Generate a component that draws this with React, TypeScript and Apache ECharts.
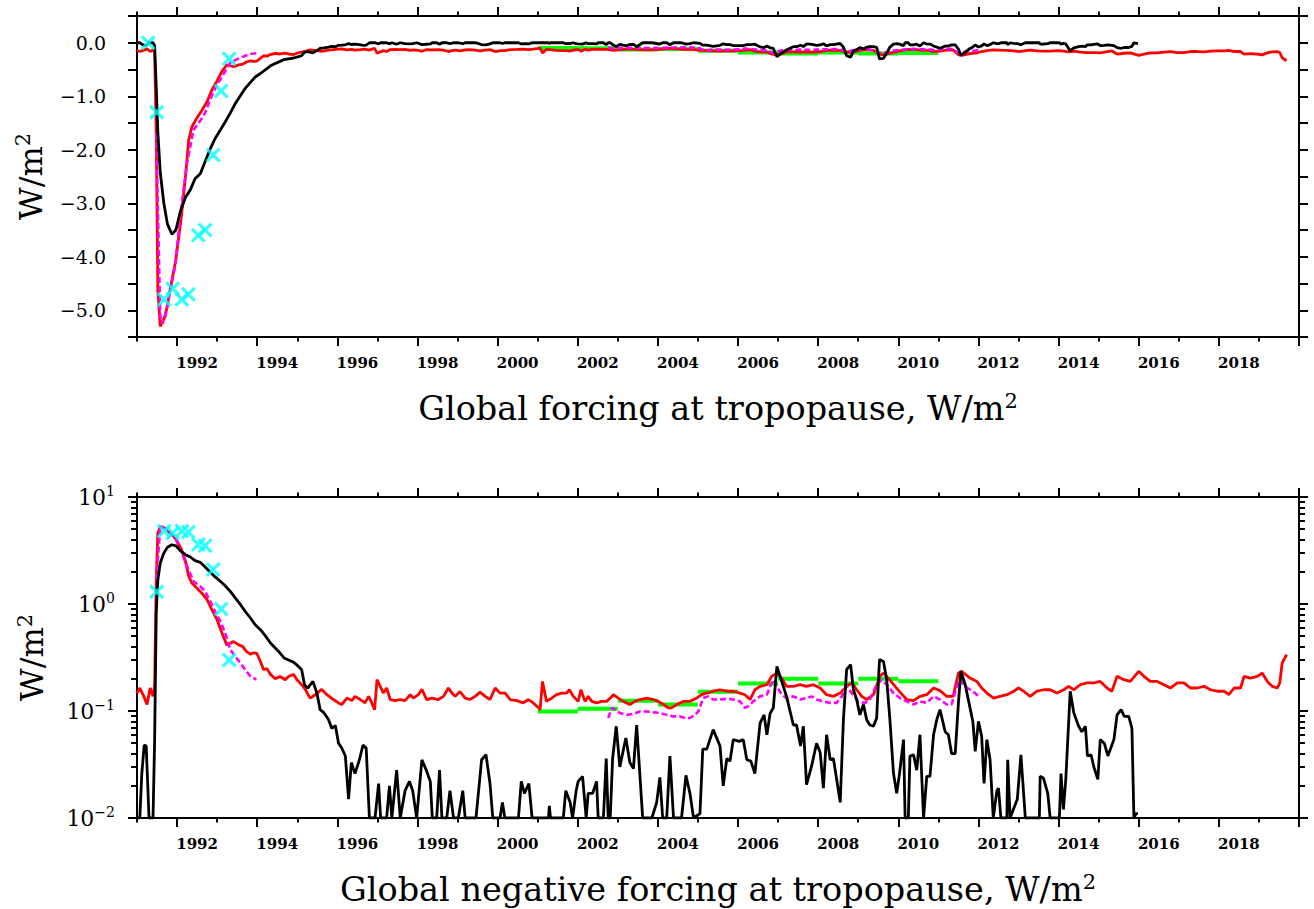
import { useEffect, useRef } from 'react';
import * as echarts from 'echarts';

// ---------- tick / label values ----------
const evenYears = [1992, 1994, 1996, 1998, 2000, 2002, 2004, 2006, 2008, 2010, 2012, 2014, 2016, 2018, 2020];
const oddYears = [1991, 1993, 1995, 1997, 1999, 2001, 2003, 2005, 2007, 2009, 2011, 2013, 2015, 2017, 2019];
const labelYears = [1992, 1994, 1996, 1998, 2000, 2002, 2004, 2006, 2008, 2010, 2012, 2014, 2016, 2018];
const logMajorTicks = [0.01, 0.1, 1, 10];
const logMinorTicks = [0.02, 0.03, 0.04, 0.05, 0.06, 0.07, 0.08, 0.09, 0.2, 0.3, 0.4, 0.5, 0.6, 0.7, 0.8, 0.9, 2, 3, 4, 5, 6, 7, 8, 9];

const topTitle = 'Global forcing at tropopause, W/m';
const bottomTitle = 'Global negative forcing at tropopause, W/m';

// ---------- data: negative forcing (W/m2), [year, value] ----------
const redData: [number, number][] = [
  [1991.00, 0.147], [1991.07, 0.164], [1991.17, 0.137], [1991.25, 0.115], [1991.33, 0.164], [1991.40, 0.137], [1991.44, 0.17],
  [1991.48, 1.67], [1991.52, 4.6], [1991.58, 5.3], [1991.71, 5.1], [1991.83, 4.6], [1991.96, 4.1], [1992.10, 3.3], [1992.21, 2.5],
  [1992.29, 1.82], [1992.37, 1.57], [1992.50, 1.40], [1992.62, 1.26], [1992.75, 1.10], [1992.87, 0.88], [1993.00, 0.71],
  [1993.12, 0.535], [1993.24, 0.415], [1993.33, 0.43], [1993.41, 0.445], [1993.54, 0.415], [1993.64, 0.40], [1993.73, 0.36],
  [1993.83, 0.34], [1993.91, 0.35], [1993.99, 0.345], [1994.08, 0.29], [1994.16, 0.243], [1994.24, 0.25], [1994.33, 0.22],
  [1994.45, 0.20], [1994.57, 0.21], [1994.70, 0.196], [1994.78, 0.21], [1994.91, 0.22], [1994.99, 0.196], [1995.11, 0.176],
  [1995.20, 0.159], [1995.32, 0.132], [1995.45, 0.142], [1995.61, 0.159], [1995.74, 0.142], [1995.90, 0.128], [1996.03, 0.119],
  [1996.11, 0.115], [1996.24, 0.132], [1996.36, 0.125], [1996.44, 0.137], [1996.57, 0.128], [1996.69, 0.119], [1996.78, 0.137],
  [1996.86, 0.119], [1996.93, 0.103], [1996.99, 0.196], [1997.07, 0.17], [1997.15, 0.147], [1997.23, 0.164], [1997.32, 0.128],
  [1997.44, 0.125], [1997.57, 0.128], [1997.69, 0.125], [1997.82, 0.142], [1997.90, 0.132], [1998.02, 0.142], [1998.11, 0.159],
  [1998.23, 0.128], [1998.36, 0.132], [1998.52, 0.128], [1998.65, 0.137], [1998.77, 0.164], [1998.86, 0.147], [1998.94, 0.137],
  [1999.06, 0.152], [1999.19, 0.132], [1999.31, 0.128], [1999.44, 0.137], [1999.56, 0.15], [1999.69, 0.137], [1999.81, 0.128],
  [1999.94, 0.164], [2000.06, 0.147], [2000.19, 0.147], [2000.31, 0.128], [2000.48, 0.125], [2000.64, 0.119], [2000.77, 0.128],
  [2000.89, 0.119], [2001.02, 0.107], [2001.06, 0.103], [2001.12, 0.189], [2001.22, 0.123], [2001.35, 0.132], [2001.47, 0.142],
  [2001.60, 0.147], [2001.72, 0.147], [2001.79, 0.158], [2001.89, 0.137], [2002.01, 0.123], [2002.08, 0.158], [2002.18, 0.123],
  [2002.26, 0.137], [2002.35, 0.123], [2002.47, 0.119], [2002.60, 0.123], [2002.72, 0.123], [2002.81, 0.132], [2002.89, 0.142],
  [2003.01, 0.132], [2003.14, 0.123], [2003.30, 0.115], [2003.43, 0.123], [2003.55, 0.128], [2003.72, 0.132], [2003.89, 0.128],
  [2004.01, 0.123], [2004.14, 0.115], [2004.26, 0.107], [2004.34, 0.107], [2004.47, 0.115], [2004.64, 0.123], [2004.80, 0.123],
  [2004.97, 0.132], [2005.09, 0.142], [2005.22, 0.147], [2005.38, 0.153], [2005.55, 0.158], [2005.72, 0.153], [2005.88, 0.153],
  [2006.05, 0.147], [2006.17, 0.142], [2006.30, 0.128], [2006.42, 0.158], [2006.55, 0.170], [2006.72, 0.176], [2006.84, 0.211],
  [2006.97, 0.226], [2007.09, 0.203], [2007.21, 0.170], [2007.38, 0.170], [2007.55, 0.176], [2007.71, 0.170], [2007.88, 0.176],
  [2008.05, 0.164], [2008.21, 0.142], [2008.38, 0.137], [2008.55, 0.147], [2008.71, 0.170], [2008.84, 0.183], [2008.96, 0.158],
  [2009.09, 0.137], [2009.21, 0.128], [2009.38, 0.142], [2009.54, 0.211], [2009.63, 0.226], [2009.75, 0.203], [2009.92, 0.170],
  [2010.04, 0.15], [2010.21, 0.128], [2010.38, 0.125], [2010.54, 0.137], [2010.71, 0.142], [2010.88, 0.164], [2011.04, 0.155],
  [2011.21, 0.137], [2011.37, 0.137], [2011.50, 0.226], [2011.58, 0.235], [2011.79, 0.203], [2011.96, 0.189], [2012.08, 0.164],
  [2012.21, 0.147], [2012.38, 0.132], [2012.54, 0.137], [2012.71, 0.142], [2012.88, 0.153], [2013.00, 0.164], [2013.13, 0.153],
  [2013.29, 0.137], [2013.46, 0.153], [2013.63, 0.158], [2013.79, 0.158], [2013.96, 0.147], [2014.13, 0.158], [2014.25, 0.170],
  [2014.38, 0.158], [2014.54, 0.176], [2014.71, 0.183], [2014.88, 0.183], [2015.04, 0.189], [2015.21, 0.164], [2015.33, 0.153],
  [2015.46, 0.211], [2015.63, 0.196], [2015.79, 0.189], [2016.00, 0.235], [2016.13, 0.211], [2016.29, 0.189], [2016.46, 0.189],
  [2016.63, 0.176], [2016.79, 0.164], [2016.96, 0.183], [2017.13, 0.183], [2017.29, 0.164], [2017.46, 0.164], [2017.63, 0.170],
  [2017.79, 0.158], [2017.96, 0.153], [2018.13, 0.153], [2018.25, 0.142], [2018.38, 0.164], [2018.54, 0.164], [2018.63, 0.211],
  [2018.79, 0.203], [2018.96, 0.211], [2019.08, 0.226], [2019.21, 0.189], [2019.33, 0.170], [2019.46, 0.164], [2019.52, 0.183],
  [2019.58, 0.281], [2019.69, 0.336],
];

// 0 = no negative forcing (clipped at the bottom of the log panel)
const blackData: [number, number][] = [
  [1991.00, 0], [1991.07, 0], [1991.12, 0.026], [1991.18, 0.048], [1991.23, 0.047], [1991.30, 0], [1991.40, 0], [1991.44, 0.054],
  [1991.48, 0.82], [1991.52, 1.67], [1991.58, 2.42], [1991.67, 3.0], [1991.76, 3.39], [1991.87, 3.58], [1991.97, 3.5],
  [1992.08, 3.16], [1992.21, 2.89], [1992.33, 2.75], [1992.45, 2.54], [1992.58, 2.45], [1992.70, 2.22], [1992.83, 1.98],
  [1992.95, 1.79], [1993.08, 1.63], [1993.20, 1.48], [1993.33, 1.31], [1993.45, 1.14], [1993.58, 0.99], [1993.70, 0.853],
  [1993.83, 0.74], [1993.95, 0.64], [1994.08, 0.575], [1994.20, 0.506], [1994.33, 0.432], [1994.45, 0.388], [1994.57, 0.348],
  [1994.67, 0.313], [1994.78, 0.30], [1994.91, 0.285], [1995.03, 0.261], [1995.11, 0.243], [1995.18, 0.176], [1995.26, 0.164],
  [1995.39, 0.189], [1995.49, 0.147], [1995.57, 0.103], [1995.67, 0.096], [1995.78, 0.083], [1995.86, 0.069], [1995.95, 0.073],
  [1996.03, 0.05], [1996.11, 0.045], [1996.20, 0.038], [1996.28, 0.015], [1996.35, 0.033], [1996.44, 0.026], [1996.55, 0.035],
  [1996.64, 0.048], [1996.72, 0.045], [1996.80, 0], [1996.94, 0], [1997.03, 0.021], [1997.08, 0], [1997.23, 0], [1997.30, 0.02],
  [1997.36, 0], [1997.48, 0.028], [1997.57, 0], [1997.69, 0.018], [1997.80, 0.022], [1997.88, 0.018], [1997.98, 0],
  [1998.11, 0.035], [1998.22, 0.028], [1998.32, 0.022], [1998.37, 0], [1998.48, 0], [1998.55, 0.028], [1998.61, 0], [1998.73, 0],
  [1998.81, 0.018], [1998.90, 0], [1999.02, 0], [1999.13, 0.018], [1999.19, 0], [1999.46, 0], [1999.60, 0.035], [1999.71, 0.039],
  [1999.81, 0.021], [1999.88, 0], [2000.06, 0], [2000.12, 0.014], [2000.18, 0], [2000.52, 0], [2000.59, 0.022], [2000.67, 0.017],
  [2000.78, 0.021], [2000.86, 0], [2001.27, 0], [2001.29, 0.013], [2001.32, 0], [2001.64, 0], [2001.70, 0.018], [2001.81, 0.014],
  [2001.87, 0], [2001.96, 0.018], [2002.01, 0.022], [2002.12, 0.0245], [2002.21, 0], [2002.26, 0.017], [2002.37, 0.017],
  [2002.47, 0.022], [2002.51, 0], [2002.64, 0], [2002.71, 0.036], [2002.76, 0], [2002.81, 0], [2002.87, 0.036], [2002.96, 0.072],
  [2003.05, 0.030], [2003.20, 0.056], [2003.30, 0.033], [2003.39, 0.029], [2003.47, 0.074], [2003.62, 0], [2003.85, 0],
  [2003.97, 0.014], [2004.05, 0.024], [2004.12, 0], [2004.22, 0], [2004.30, 0.038], [2004.39, 0], [2004.59, 0], [2004.70, 0.025],
  [2004.80, 0.017], [2004.89, 0], [2005.05, 0.011], [2005.12, 0.044], [2005.22, 0.044], [2005.38, 0.067], [2005.55, 0.047],
  [2005.63, 0.02], [2005.72, 0.036], [2005.80, 0.034], [2005.88, 0.054], [2006.03, 0.052], [2006.13, 0.054], [2006.22, 0.035],
  [2006.32, 0.034], [2006.42, 0.026], [2006.55, 0.077], [2006.65, 0.092], [2006.72, 0.06], [2006.80, 0.095], [2006.88, 0.107],
  [2006.97, 0.261], [2007.09, 0.189], [2007.21, 0.137], [2007.38, 0.074], [2007.46, 0.074], [2007.56, 0.047], [2007.63, 0.072],
  [2007.71, 0.0205], [2007.84, 0.031], [2007.96, 0.050], [2008.05, 0.041], [2008.13, 0.019], [2008.21, 0.06], [2008.30, 0.035],
  [2008.38, 0.036], [2008.55, 0.014], [2008.63, 0.083], [2008.71, 0.243], [2008.81, 0.271], [2008.88, 0.158], [2008.96, 0.128],
  [2009.04, 0.092], [2009.13, 0.115], [2009.21, 0.083], [2009.29, 0.074], [2009.38, 0.072], [2009.46, 0.086], [2009.53, 0.302],
  [2009.63, 0.29], [2009.71, 0.196], [2009.79, 0.083], [2009.88, 0.026], [2009.96, 0.017], [2010.03, 0.026], [2010.13, 0.054],
  [2010.17, 0], [2010.25, 0], [2010.29, 0.038], [2010.38, 0.039], [2010.46, 0.028], [2010.54, 0.06], [2010.63, 0],
  [2010.71, 0.0245], [2010.79, 0.0245], [2010.88, 0.06], [2010.96, 0.083], [2011.04, 0.103], [2011.17, 0.064], [2011.25, 0.06],
  [2011.33, 0.04], [2011.42, 0.04], [2011.50, 0.119], [2011.56, 0.235], [2011.67, 0.176], [2011.79, 0.107], [2011.86, 0.08],
  [2011.92, 0.042], [2012.00, 0.08], [2012.08, 0.058], [2012.14, 0.021], [2012.21, 0.054], [2012.29, 0.035], [2012.37, 0],
  [2012.46, 0.018], [2012.50, 0.019], [2012.56, 0], [2012.71, 0], [2012.73, 0.035], [2012.79, 0], [2012.87, 0.012],
  [2012.97, 0.015], [2013.06, 0.039], [2013.17, 0], [2013.52, 0], [2013.54, 0.0245], [2013.62, 0.0237], [2013.73, 0.017],
  [2013.79, 0], [2014.02, 0], [2014.06, 0.026], [2014.12, 0.012], [2014.18, 0.023], [2014.29, 0.153], [2014.38, 0.096],
  [2014.50, 0.072], [2014.58, 0.064], [2014.67, 0.072], [2014.72, 0.038], [2014.81, 0.039], [2014.88, 0.03], [2014.98, 0.023],
  [2015.04, 0.054], [2015.14, 0.05], [2015.23, 0.038], [2015.38, 0.054], [2015.46, 0.092], [2015.56, 0.103], [2015.64, 0.089],
  [2015.75, 0.089], [2015.83, 0.069], [2015.88, 0], [2015.93, 0.011], [2015.98, 0.011],
];

const magentaEarly: [number, number][] = [
  [1991.48, 1.69], [1991.58, 5.1], [1991.64, 5.25], [1991.75, 4.95], [1991.96, 4.14], [1992.08, 3.22], [1992.25, 2.25],
  [1992.41, 1.63], [1992.58, 1.46], [1992.70, 1.31], [1992.83, 1.06], [1992.95, 0.853], [1993.08, 0.69], [1993.20, 0.535],
  [1993.33, 0.374], [1993.45, 0.324], [1993.58, 0.281], [1993.70, 0.243], [1993.83, 0.211], [1993.98, 0.196],
];

const magentaLate: [number, number][] = [
  [2002.76, 0.086], [2002.85, 0.107], [2002.93, 0.103], [2003.05, 0.096], [2003.22, 0.092], [2003.39, 0.094], [2003.55, 0.099],
  [2003.72, 0.099], [2003.89, 0.097], [2004.05, 0.096], [2004.22, 0.092], [2004.39, 0.089], [2004.55, 0.089], [2004.68, 0.086],
  [2004.80, 0.086], [2004.93, 0.092], [2005.01, 0.099], [2005.13, 0.132], [2005.26, 0.137], [2005.38, 0.128], [2005.55, 0.128],
  [2005.72, 0.130], [2005.88, 0.128], [2006.05, 0.123], [2006.17, 0.107], [2006.26, 0.111], [2006.38, 0.123], [2006.55, 0.137],
  [2006.72, 0.142], [2006.80, 0.170], [2006.88, 0.196], [2006.97, 0.170], [2007.09, 0.142], [2007.21, 0.132], [2007.38, 0.137],
  [2007.55, 0.128], [2007.71, 0.132], [2007.84, 0.137], [2007.96, 0.128], [2008.13, 0.123], [2008.30, 0.119], [2008.46, 0.119],
  [2008.59, 0.137], [2008.71, 0.170], [2008.84, 0.147], [2009.00, 0.123], [2009.17, 0.119], [2009.29, 0.128], [2009.46, 0.176],
  [2009.59, 0.196], [2009.71, 0.176], [2009.88, 0.147], [2010.04, 0.132], [2010.21, 0.123], [2010.38, 0.115], [2010.54, 0.123],
  [2010.71, 0.119], [2010.88, 0.137], [2011.04, 0.128], [2011.21, 0.115], [2011.33, 0.115], [2011.46, 0.170], [2011.54, 0.196],
  [2011.67, 0.170], [2011.79, 0.158], [2011.92, 0.147], [2012.00, 0.137],
];

// yearly means (start year of each 1-year segment)
const greenYears = [2001, 2002, 2003, 2004, 2005, 2006, 2007, 2008, 2009, 2010];
const greenValues = [0.099, 0.105, 0.125, 0.115, 0.151, 0.181, 0.2, 0.181, 0.2, 0.19];

const cyanYears = [1991.28, 1991.49, 1991.68, 1991.89, 1992.12, 1992.28, 1992.53, 1992.70, 1992.90, 1993.10, 1993.30];
const cyanValues = [0.0, 1.3, 4.8, 4.6, 4.8, 4.7, 3.6, 3.5, 2.1, 0.9, 0.3];

// ---------- styling ----------
const FONT = '"DejaVu Serif", serif';
const AX = { color: '#000', width: 2 };
const CROSS = 'path://M0,1.5L1.5,0L5,3.5L8.5,0L10,1.5L6.5,5L10,8.5L8.5,10L5,6.5L1.5,10L0,8.5L3.5,5Z';

const titleRich = {
  t: { fontFamily: FONT, fontSize: 33.5, lineHeight: 34, color: '#000' },
  s: { fontFamily: FONT, fontSize: 21, lineHeight: 16, color: '#000', padding: [0, 0, 15, 0] },
};
const yTitleRich = {
  a: { fontFamily: FONT, fontSize: 32, lineHeight: 34, color: '#000' },
  s: { fontFamily: FONT, fontSize: 21, lineHeight: 16, color: '#000', padding: [0, 0, 15, 0] },
};
const logRich = {
  b: { fontFamily: FONT, fontSize: 22, lineHeight: 24, color: '#000' },
  s: { fontFamily: FONT, fontSize: 14, lineHeight: 12, color: '#000', padding: [0, 0, 12, 0] },
};

function makeX(gridIndex: number, position: string, ticks: number[], len: number, main: boolean, title?: string) {
  const ax: any = {
    type: 'value', gridIndex, position, min: 1991, max: 2020,
    axisLine: { show: main, onZero: false, lineStyle: AX },
    axisTick: { show: true, inside: false, length: len, customValues: ticks, lineStyle: AX },
    axisLabel: { show: false },
    splitLine: { show: false },
  };
  if (title) {
    ax.axisLabel = {
      show: true,
      customValues: labelYears.map((y) => y + 0.5),
      formatter: (v: number) => String(Math.floor(v)),
      margin: 18, fontFamily: FONT, fontSize: 15, fontWeight: 'bold', color: '#000',
    };
    ax.name = `{t|${title}}{s|2}`;
    ax.nameLocation = 'middle';
    ax.nameGap = 54;
    ax.nameTextStyle = { rich: titleRich };
  }
  return ax;
}

function fmtLinear(v: number) {
  if (Math.abs(v - Math.round(v)) > 1e-6) return '';
  const r = Math.round(v);
  return (r < 0 ? '\u2212' : '') + Math.abs(r).toFixed(1);
}

function fmtLog(v: number) {
  const e = Math.round(Math.log10(v));
  return `{b|10}{s|${e < 0 ? '\u2212' + Math.abs(e) : e}}`;
}

function buildOption() {
  const xAxis = [
    makeX(0, 'bottom', evenYears, 9, true, topTitle),
    makeX(0, 'bottom', oddYears, 4.5, false),
    makeX(0, 'top', evenYears, 9, true),
    makeX(0, 'top', oddYears, 4.5, false),
    makeX(1, 'bottom', evenYears, 9, true, bottomTitle),
    makeX(1, 'bottom', oddYears, 4.5, false),
    makeX(1, 'top', evenYears, 9, true),
    makeX(1, 'top', oddYears, 4.5, false),
  ];

  const yName = { name: '{a|W/m}{s|2}', nameLocation: 'middle', nameRotate: 90, nameGap: 88, nameTextStyle: { rich: yTitleRich } };

  const linY = (position: string, labels: boolean) => ({
    type: 'value', gridIndex: 0, position, min: -5.5, max: 0.5, interval: 0.5,
    axisLine: { show: true, onZero: false, lineStyle: AX },
    axisTick: { show: true, inside: false, length: 9, lineStyle: AX },
    axisLabel: labels
      ? { show: true, formatter: fmtLinear, margin: 31, fontFamily: FONT, fontSize: 19, color: '#000' }
      : { show: false },
    splitLine: { show: false },
    ...(labels ? yName : {}),
  });

  const logY = (position: string, major: boolean, labels: boolean) => ({
    type: 'log', logBase: 10, gridIndex: 1, position, min: 0.01, max: 10,
    axisLine: { show: major, onZero: false, lineStyle: AX },
    axisTick: { show: true, inside: false, length: major ? 9 : 6, customValues: major ? logMajorTicks : logMinorTicks, lineStyle: AX },
    axisLabel: labels
      ? { show: true, customValues: logMajorTicks, formatter: fmtLog, margin: 22, rich: logRich }
      : { show: false },
    splitLine: { show: false },
    minorTick: { show: false },
    ...(labels ? yName : {}),
  });

  const yAxis = [
    linY('left', true),
    linY('right', false),
    logY('left', true, true),
    logY('left', false, false),
    logY('right', true, false),
    logY('right', false, false),
  ];

  const panels = [
    { x: 0, y: 0, map: (v: number) => -v, keep: (_v: number) => true },
    { x: 4, y: 2, map: (v: number) => Math.max(v, 0.01), keep: (v: number) => v > 0 },
  ];

  const series: any[] = [];
  panels.forEach((p) => {
    const base = { type: 'line', xAxisIndex: p.x, yAxisIndex: p.y, showSymbol: false, symbol: 'none', silent: true, clip: true };
    greenYears.forEach((yr, i) => {
      series.push({
        ...base, z: 2,
        data: [[yr, p.map(greenValues[i])], [yr + 1, p.map(greenValues[i])]],
        lineStyle: { color: '#00ff00', width: 4 },
      });
    });
    series.push({ ...base, z: 3, data: redData.map(([yr, v]) => [yr, p.map(v)]), lineStyle: { color: '#ff0000', width: 2.8 } });
    [magentaEarly, magentaLate].forEach((seg) => {
      series.push({ ...base, z: 4, data: seg.map(([yr, v]) => [yr, p.map(v)]), lineStyle: { color: '#ff00ff', width: 2.6, type: [6, 3] } });
    });
    series.push({ ...base, z: 5, data: blackData.map(([yr, v]) => [yr, p.map(v)]), lineStyle: { color: '#000', width: 2.8 } });
    series.push({
      type: 'scatter', xAxisIndex: p.x, yAxisIndex: p.y, z: 6, silent: true,
      symbol: CROSS, symbolSize: 15,
      itemStyle: { color: '#00ffff' },
      data: cyanYears.map((yr, i) => [yr, cyanValues[i]]).filter(([, v]) => p.keep(v)).map(([yr, v]) => [yr, p.map(v)]),
    });
  });

  return {
    animation: false,
    backgroundColor: '#fff',
    grid: [
      { left: 137, top: 16, width: 1162, height: 321, containLabel: false },
      { left: 137, top: 497, width: 1162, height: 321, containLabel: false },
    ],
    xAxis,
    yAxis,
    series,
  };
}

export default function App() {
  const ref = useRef<HTMLDivElement>(null);
  useEffect(() => {
    const chart = echarts.init(ref.current!, null, { renderer: 'svg' });
    chart.setOption(buildOption() as any);
    return () => chart.dispose();
  }, []);
  return (
    <div
      ref={ref}
      style={{ position: 'absolute', left: 0, top: 0, width: 1314, height: 909, background: '#fff' }}
    />
  );
}
